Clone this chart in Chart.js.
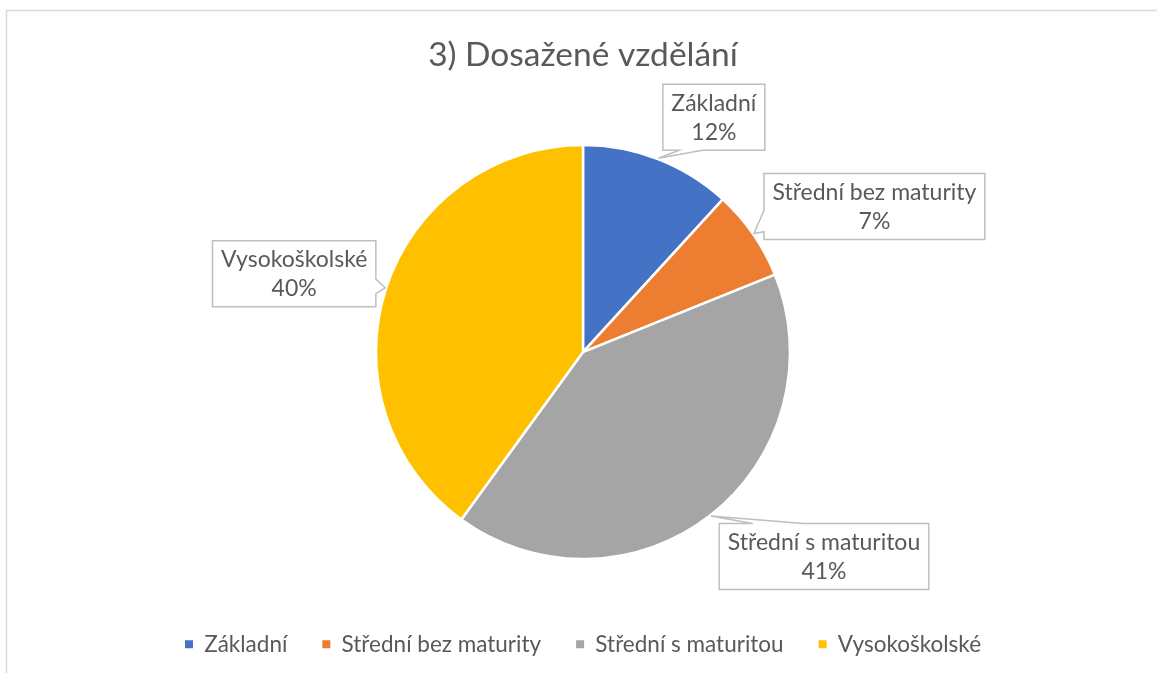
<!DOCTYPE html>
<html><head><meta charset="utf-8">
<script src="https://cdn.jsdelivr.net/npm/chart.js@4.4.0/dist/chart.umd.min.js"></script>
<style>html,body{margin:0;padding:0;background:#fff;}canvas{display:block;}</style>
</head><body>
<canvas id="c" width="1157" height="673"></canvas>
<script>
const categories = ['Základní', 'Střední bez maturity', 'Střední s maturitou', 'Vysokoškolské'];
const values = [11.8, 7.1, 41.1, 40.0];
const colors = ['#4472C4', '#ED7D31', '#A5A5A5', '#FFC000'];
const titleText = '3) Dosažené vzdělání';

// callout layout: box centre offset from the tail tip, which box edge holds the tail, tail base fractions
const calloutLayout = [
  {dx: 55.5, dy: -41, edge: 'bottom', t0: 0.16, t1: 0.39},
  {dx: 120.5, dy: -27, edge: 'left', t0: 0.56, t1: 0.88},
  {dx: 113, dy: 40.5, edge: 'top', t0: 0.16, t1: 0.40},
  {dx: -91, dy: -14, edge: 'right', t0: 0.58, t1: 0.80}
];

const TEXT = '#595959';
const FONT = 'Lato';

const frame = {
  id: 'frame',
  beforeDraw(chart) {
    const ctx = chart.ctx;
    ctx.save();
    ctx.fillStyle = '#fff';
    ctx.fillRect(0, 0, chart.width, chart.height);
    ctx.strokeStyle = '#d9d9d9';
    ctx.lineWidth = 1.5;
    ctx.strokeRect(6.5, 10.5, chart.width + 20, chart.height + 20);
    ctx.restore();
  }
};

const callouts = {
  id: 'callouts',
  afterDatasetsDraw(chart) {
    const ctx = chart.ctx;
    const meta = chart.getDatasetMeta(0);
    const data = chart.data.datasets[0].data;
    const total = data.reduce((a, b) => a + b, 0);
    ctx.save();
    ctx.font = '23px ' + FONT;
    meta.data.forEach((arc, i) => {
      const p = arc.getProps(['x', 'y', 'startAngle', 'endAngle', 'outerRadius'], true);
      const mid = (p.startAngle + p.endAngle) / 2;
      const tx = p.x + Math.cos(mid) * (p.outerRadius + 1);
      const ty = p.y + Math.sin(mid) * (p.outerRadius + 1);
      const L = calloutLayout[i];
      const line1 = chart.data.labels[i];
      const line2 = Math.round(data[i] / total * 100) + '%';
      const w = Math.max(ctx.measureText(line1).width, ctx.measureText(line2).width) + 17;
      const h = 66;
      const cx = tx + L.dx, cy = ty + L.dy;
      const x0 = cx - w / 2, x1 = cx + w / 2, y0 = cy - h / 2, y1 = cy + h / 2;
      const pts = [];
      pts.push([x0, y0]);
      if (L.edge === 'top') { pts.push([x0 + L.t0 * w, y0], [tx, ty], [x0 + L.t1 * w, y0]); }
      pts.push([x1, y0]);
      if (L.edge === 'right') { pts.push([x1, y0 + L.t0 * h], [tx, ty], [x1, y0 + L.t1 * h]); }
      pts.push([x1, y1]);
      if (L.edge === 'bottom') { pts.push([x0 + L.t1 * w, y1], [tx, ty], [x0 + L.t0 * w, y1]); }
      pts.push([x0, y1]);
      if (L.edge === 'left') { pts.push([x0, y0 + L.t1 * h], [tx, ty], [x0, y0 + L.t0 * h]); }
      ctx.beginPath();
      pts.forEach((q, k) => k ? ctx.lineTo(q[0], q[1]) : ctx.moveTo(q[0], q[1]));
      ctx.closePath();
      ctx.fillStyle = '#fff';
      ctx.fill();
      ctx.strokeStyle = '#bfbfbf';
      ctx.lineWidth = 1.5;
      ctx.stroke();
      ctx.fillStyle = TEXT;
      ctx.textAlign = 'center';
      ctx.textBaseline = 'middle';
      ctx.fillText(line1, cx, cy - 14);
      ctx.fillText(line2, cx, cy + 15);
    });
    ctx.restore();
  }
};

function build() {
  new Chart(document.getElementById('c'), {
    type: 'pie',
    data: {
      labels: categories,
      datasets: [{
        data: values,
        backgroundColor: colors,
        borderColor: '#ffffff',
        borderWidth: 2.5,
        radius: 207
      }]
    },
    options: {
      responsive: false,
      animation: false,
      layout: {padding: {left: 9, right: 0, top: 0, bottom: 7.5}},
      plugins: {
        title: {
          display: true, text: titleText, color: TEXT,
          font: {family: FONT, size: 33.5, weight: 'normal'},
          padding: {top: 35, bottom: 31}
        },
        legend: {
          position: 'bottom',
          labels: {
            boxWidth: 8, boxHeight: 8, padding: 35, color: TEXT,
            font: {family: FONT, size: 22.5},
            generateLabels(chart) {
              return Chart.overrides.pie.plugins.legend.labels.generateLabels(chart)
                .map(l => Object.assign(l, {lineWidth: 0, strokeStyle: l.fillStyle}));
            }
          }
        },
        tooltip: {enabled: false}
      }
    },
    plugins: [frame, callouts]
  });
}
if (document.fonts && document.fonts.load) {
  Promise.all([document.fonts.load('23px Lato'), document.fonts.load('33px Lato')]).then(build, build);
} else { build(); }
</script>
</body></html>
